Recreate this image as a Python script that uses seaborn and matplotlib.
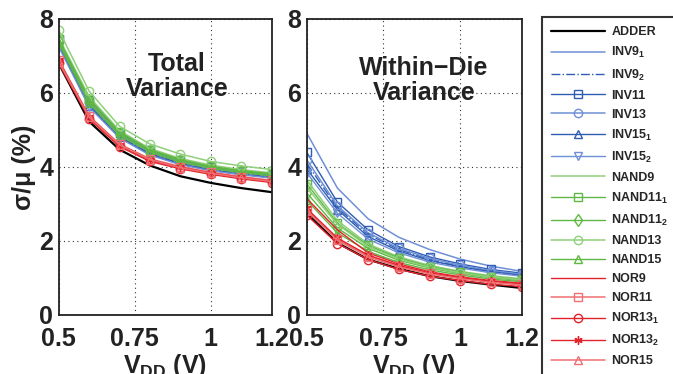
import matplotlib
matplotlib.use("Agg")
import matplotlib.pyplot as plt
import seaborn as sns
import pandas as pd
import numpy as np

sns.set_theme(style="white")
plt.rcParams['font.family'] = ['Liberation Sans', 'DejaVu Sans']
plt.rcParams['font.weight'] = 'bold'
plt.rcParams['mathtext.fontset'] = 'custom'
plt.rcParams['mathtext.rm'] = 'Liberation Sans:bold'
plt.rcParams['mathtext.it'] = 'Liberation Sans:bold'
plt.rcParams['mathtext.bf'] = 'Liberation Sans:bold'
plt.rcParams['mathtext.default'] = 'rm'

vdd = [0.5, 0.6, 0.7, 0.8, 0.9, 1.0, 1.1, 1.2]

series = ["ADDER", "INV9_1", "INV9_2", "INV11", "INV13", "INV15_1", "INV15_2",
          "NAND9", "NAND11_1", "NAND11_2", "NAND13", "NAND15",
          "NOR9", "NOR11", "NOR13_1", "NOR13_2", "NOR15"]
labels = ["ADDER", "INV9$_1$", "INV9$_2$", "INV11", "INV13", "INV15$_1$", "INV15$_2$",
          "NAND9", "NAND11$_1$", "NAND11$_2$", "NAND13", "NAND15",
          "NOR9", "NOR11", "NOR13$_1$", "NOR13$_2$", "NOR15"]

total = {
    "ADDER":    [6.80, 5.23, 4.47, 4.04, 3.75, 3.57, 3.43, 3.32],
    "INV9_1":   [7.35, 5.70, 4.85, 4.38, 4.12, 3.95, 3.84, 3.75],
    "INV9_2":   [7.30, 5.68, 4.82, 4.36, 4.10, 3.93, 3.82, 3.73],
    "INV11":    [7.45, 5.80, 4.92, 4.45, 4.18, 4.00, 3.88, 3.79],
    "INV13":    [7.40, 5.75, 4.88, 4.42, 4.15, 3.97, 3.86, 3.77],
    "INV15_1":  [7.30, 5.65, 4.80, 4.34, 4.08, 3.91, 3.80, 3.71],
    "INV15_2":  [7.25, 5.62, 4.78, 4.32, 4.06, 3.90, 3.79, 3.70],
    "NAND9":    [7.50, 5.90, 4.98, 4.50, 4.23, 4.05, 3.93, 3.84],
    "NAND11_1": [7.45, 5.85, 4.95, 4.47, 4.20, 4.02, 3.90, 3.82],
    "NAND11_2": [7.40, 5.80, 4.90, 4.44, 4.17, 4.00, 3.88, 3.80],
    "NAND13":   [7.70, 6.05, 5.10, 4.62, 4.35, 4.15, 4.03, 3.93],
    "NAND15":   [7.35, 5.72, 4.85, 4.40, 4.13, 3.96, 3.85, 3.76],
    "NOR9":     [6.85, 5.33, 4.58, 4.18, 3.97, 3.82, 3.70, 3.61],
    "NOR11":    [6.90, 5.38, 4.62, 4.22, 4.01, 3.86, 3.74, 3.64],
    "NOR13_1":  [6.80, 5.30, 4.55, 4.15, 3.95, 3.80, 3.68, 3.58],
    "NOR13_2":  [6.88, 5.36, 4.60, 4.20, 3.99, 3.84, 3.72, 3.62],
    "NOR15":    [6.85, 5.35, 4.60, 4.20, 3.98, 3.83, 3.71, 3.61],
}

within = {
    "ADDER":    [2.75, 1.95, 1.50, 1.25, 1.05, 0.92, 0.82, 0.73],
    "INV9_1":   [4.92, 3.43, 2.60, 2.10, 1.77, 1.51, 1.32, 1.18],
    "INV9_2":   [4.10, 2.90, 2.18, 1.77, 1.50, 1.31, 1.18, 1.08],
    "INV11":    [4.40, 3.05, 2.30, 1.85, 1.57, 1.38, 1.23, 1.13],
    "INV13":    [4.20, 2.95, 2.22, 1.80, 1.53, 1.34, 1.20, 1.10],
    "INV15_1":  [3.95, 2.85, 2.12, 1.73, 1.47, 1.30, 1.17, 1.07],
    "INV15_2":  [3.85, 2.75, 2.05, 1.68, 1.43, 1.27, 1.14, 1.05],
    "NAND9":    [3.65, 2.55, 1.92, 1.57, 1.34, 1.18, 1.06, 0.98],
    "NAND11_1": [3.55, 2.48, 1.88, 1.54, 1.31, 1.16, 1.04, 0.96],
    "NAND11_2": [3.30, 2.35, 1.80, 1.48, 1.27, 1.12, 1.01, 0.93],
    "NAND13":   [3.45, 2.45, 1.85, 1.51, 1.29, 1.14, 1.03, 0.95],
    "NAND15":   [3.10, 2.22, 1.72, 1.42, 1.22, 1.08, 0.97, 0.90],
    "NOR9":     [3.15, 2.30, 1.68, 1.38, 1.17, 1.03, 0.93, 0.86],
    "NOR11":    [2.85, 2.05, 1.60, 1.32, 1.13, 1.00, 0.90, 0.83],
    "NOR13_1":  [2.70, 1.93, 1.50, 1.23, 1.05, 0.93, 0.83, 0.77],
    "NOR13_2":  [2.88, 2.08, 1.62, 1.34, 1.14, 1.01, 0.91, 0.84],
    "NOR15":    [2.82, 2.02, 1.57, 1.30, 1.11, 0.98, 0.88, 0.81],
}

blue, blue_l = "#2f5db4", "#6f90d6"
green, green_l = "#5fb843", "#8fd07a"
red, red_l = "#e3232b", "#ef6f73"
styles = {
    "ADDER":    dict(color="black", marker=None, ls="-", lw=1.6),
    "INV9_1":   dict(color=blue_l, marker=None, ls="-", lw=1.1),
    "INV9_2":   dict(color=blue, marker=None, ls="-.", lw=1.0),
    "INV11":    dict(color=blue, marker="s", ls="-", lw=1.0),
    "INV13":    dict(color=blue_l, marker="o", ls="-", lw=1.1),
    "INV15_1":  dict(color=blue, marker="^", ls="-", lw=1.0),
    "INV15_2":  dict(color=blue_l, marker="v", ls="-", lw=1.0),
    "NAND9":    dict(color=green_l, marker=None, ls="-", lw=1.1),
    "NAND11_1": dict(color=green, marker="s", ls="-", lw=1.0),
    "NAND11_2": dict(color=green, marker="d", ls="-", lw=1.0),
    "NAND13":   dict(color=green_l, marker="o", ls="-", lw=1.1),
    "NAND15":   dict(color=green, marker="^", ls="-", lw=1.0),
    "NOR9":     dict(color=red, marker=None, ls="-", lw=1.0),
    "NOR11":    dict(color=red_l, marker="s", ls="-", lw=1.1),
    "NOR13_1":  dict(color=red, marker="o", ls="-", lw=1.0),
    "NOR13_2":  dict(color=red, marker=(6, 2, 0), ls="-", lw=1.0),
    "NOR15":    dict(color=red_l, marker="^", ls="-", lw=1.1),
}

rows = []
for s in series:
    for x, yt, yw in zip(vdd, total[s], within[s]):
        rows.append(dict(series=s, vdd=x, total=yt, within=yw))
df = pd.DataFrame(rows)

fig = plt.figure(figsize=(6.73, 3.74), dpi=100)
ax1 = fig.add_axes([58.7/673, 59/374, 213/673, 296/374])
ax2 = fig.add_axes([306.7/673, 59/374, 215/673, 296/374])

for ax, col in ((ax1, "total"), (ax2, "within")):
    for s, lab in zip(series, labels):
        st = styles[s]
        sub = df[df.series == s]
        kw = dict(color=st["color"], linestyle=st["ls"], linewidth=st["lw"])
        if st["marker"] is not None:
            kw.update(marker=st["marker"], markersize=6, markerfacecolor="none",
                      markeredgecolor=st["color"], markeredgewidth=1.0)
        sns.lineplot(data=sub, x="vdd", y=col, ax=ax, label=lab, legend=False, **kw)
    ax.set_xlim(0.5, 1.2)
    ax.set_ylim(0, 8)
    ax.set_xticks([0.5, 0.75, 1.0, 1.2])
    ax.set_xticklabels(["0.5", "0.75", "1", "1.2"])
    ax.set_yticks([0, 2, 4, 6, 8])
    ax.grid(True, linestyle=(0, (1, 3)), color="#333333", linewidth=0.8)
    ax.tick_params(direction="in", length=4, width=1, labelsize=18, colors="#222222")
    ax.tick_params(axis="x", pad=9)
    ax.tick_params(axis="y", pad=4)
    for sp in ax.spines.values():
        sp.set_color("#222222")
        sp.set_linewidth(1.3)
    for t in ax.get_xticklabels() + ax.get_yticklabels():
        t.set_fontweight("bold")
    ax.set_xlabel("V$_{DD}$ (V)", fontsize=18, fontweight="bold", labelpad=0, color="#222222")
    ax.set_ylabel("")

ax1.set_ylabel("σ/μ (%)", fontsize=18, fontweight="bold", labelpad=2, color="#222222")
ax1.text(0.889, 6.45, "Total\nVariance", ha="center", va="center", fontsize=18,
         fontweight="bold", color="#222222", linespacing=1.05)
ax2.text(0.882, 6.35, "Within\u2212Die\nVariance", ha="center", va="center", fontsize=18,
         fontweight="bold", color="#222222", linespacing=1.05)

handles, labs = ax1.get_legend_handles_labels()
leg = fig.legend(handles, labs, loc="upper left", bbox_to_anchor=(542/673, 1 - 17/374),
                 frameon=True, fancybox=False, prop=dict(size=9, weight="bold"),
                 handlelength=4.3, handletextpad=0.5, labelspacing=0.56,
                 borderpad=0.75, borderaxespad=0)
leg.get_frame().set_edgecolor("black")
leg.get_frame().set_linewidth(1.5)

fig.savefig("out.png", dpi=100)
